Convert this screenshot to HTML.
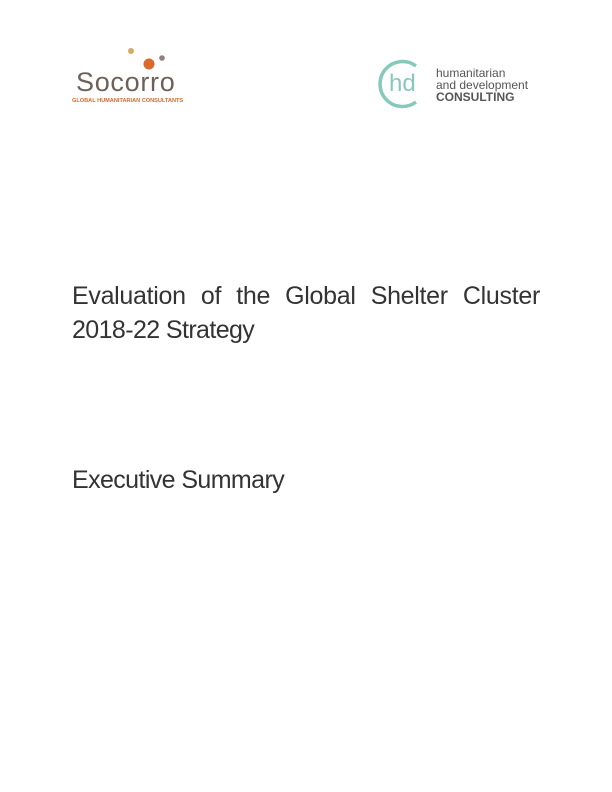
<!DOCTYPE html>
<html><head><meta charset="utf-8"><style>
body{margin:0;width:612px;height:792px;background:#fff;position:relative;font-family:"Liberation Sans",sans-serif;overflow:hidden}
.a{position:absolute;white-space:nowrap}
</style></head><body>
<svg class="a" style="left:0;top:0" width="612" height="130">
<circle cx="131" cy="51" r="3" fill="#d4aa66"/>
<circle cx="149" cy="64" r="5.5" fill="#d86a2c"/>
<circle cx="162" cy="58" r="2.8" fill="#8f8079"/>
<path d="M416 66 A22.5 22.5 0 1 0 416 102" fill="none" stroke="#86c9bb" stroke-width="3.5"/>
</svg>
<div class="a" style="left:76px;top:67px;font-size:27px;color:#6e615a;letter-spacing:0.7px">Socorro</div>
<div class="a" style="left:72px;top:98px;font-size:5.6px;font-weight:bold;color:#d86a2c;letter-spacing:0px">GLOBAL HUMANITARIAN CONSULTANTS</div>
<div class="a" style="left:389px;top:70px;font-size:24px;color:#86c9bb">hd</div>
<div class="a" style="left:436px;top:67px;font-size:12px;color:#555;line-height:12px">humanitarian<br>and development<br><b>CONSULTING</b></div>
<div class="a" style="left:72px;top:282px;width:468px;font-size:25px;color:#333;text-align:justify;text-align-last:justify;letter-spacing:-0.3px">Evaluation of the Global Shelter Cluster</div>
<div class="a" style="left:72px;top:316px;font-size:25px;color:#333;letter-spacing:-0.6px">2018-22 Strategy</div>
<div class="a" style="left:72px;top:466px;font-size:25px;color:#333;letter-spacing:-0.6px">Executive Summary</div>
</body></html>
